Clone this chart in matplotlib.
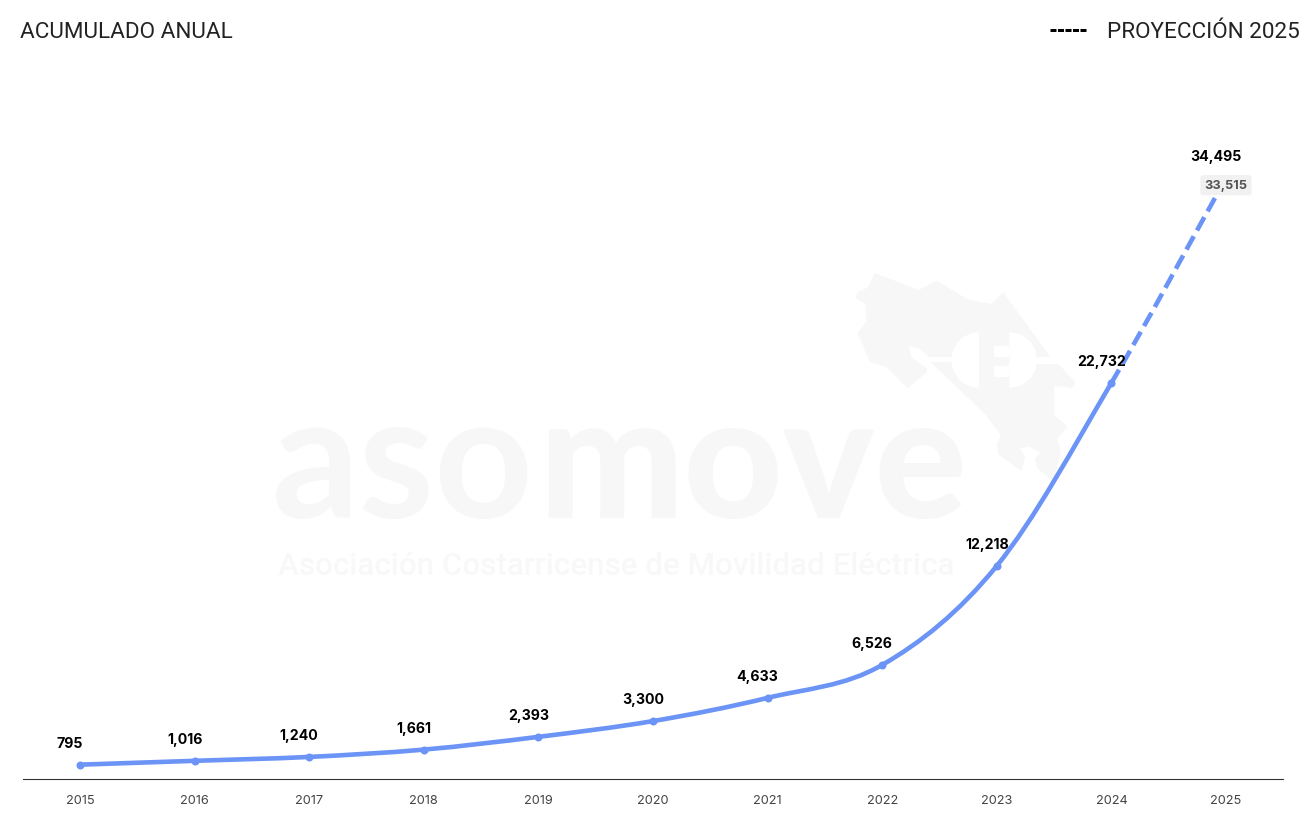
import numpy as np
import matplotlib
matplotlib.use("Agg")
import matplotlib.pyplot as plt
from matplotlib.path import Path
from matplotlib.patches import PathPatch, Polygon, Rectangle, Wedge
from matplotlib.lines import Line2D
from matplotlib.transforms import Affine2D

years = [2015, 2016, 2017, 2018, 2019, 2020, 2021, 2022, 2023, 2024, 2025]
totals = [795, 1016, 1240, 1661, 2393, 3300, 4633, 6526, 12218, 22732, 34495]
actual_2025 = 33515
title_left = "ACUMULADO ANUAL"
title_right = "PROYECCIÓN 2025"

W, H = 1314, 837
LINE = "#6b94f6"
MARK = "#f7f7f7"
px = 72 / 100

fig = plt.figure(figsize=(W / 100, H / 100), dpi=100, facecolor="white")
y_scale = 0.017405
ymax = 39000
ax_left, ax_right, ax_base = 22.7, 1283.3, 779.5
ax_h = ymax * y_scale
ax = fig.add_axes([ax_left / W, (H - ax_base) / H, (ax_right - ax_left) / W, ax_h / H])
ax.set_xlim(years[0] - 0.5, years[-1] + 0.5)
ax.set_ylim(0, ymax)
ax.patch.set_alpha(0)
for s in ("left", "right", "top"):
    ax.spines[s].set_visible(False)
ax.spines["bottom"].set_color("#333333")
ax.spines["bottom"].set_linewidth(0.8)
ax.set_yticks([])
ax.set_xticks(years)
ax.tick_params(axis="x", length=0, pad=11.5, labelsize=9.2, labelcolor="#444444")
for t in ax.get_xticklabels():
    t.set_family("Inter")

# pixel coordinates (origin top-left), only for the logo watermark and header
pix = Affine2D().scale(1, -1).translate(0, H)
logo = Affine2D().scale(1 / 3).translate(840, 265) + pix

outline = [(103, 27), (237, 78), (290, 50), (385, 107), (455, 120), (490, 85), (630, 278),
           (655, 300), (707, 355), (697, 372), (643, 365), (643, 452), (682, 488), (652, 523),
           (663, 560), (640, 655), (590, 610), (585, 585), (600, 565), (565, 548), (540, 552),
           (555, 580), (545, 622), (475, 570), (470, 540), (483, 515), (440, 455), (272, 295),
           (265, 278), (240, 255), (205, 245), (215, 280), (262, 315), (260, 325), (202, 373),
           (140, 310), (90, 293), (53, 208), (80, 170), (75, 120), (45, 100), (55, 83), (85, 70)]
fig.add_artist(Polygon(outline, closed=True, fc=MARK, ec="none", transform=logo, zorder=0))
for x0, y0, w, h in [(265, 278, 80, 17), (585, 278, 70, 22), (462, 245, 46, 33), (462, 305, 46, 35)]:
    fig.add_artist(Rectangle((x0, y0), w, h, fc="white", ec="none", transform=logo, zorder=0.1))
fig.add_artist(Wedge((417, 288), 83, 90, 270, fc="white", ec="none", transform=logo, zorder=0.1))
fig.add_artist(Wedge((508, 288), 83, -90, 90, fc="white", ec="none", transform=logo, zorder=0.1))

fig.text(272, 518, "aso", transform=pix, family="Lato", weight="bold", fontsize=124, color=MARK,
         ha="left", va="baseline", zorder=0.2)
fig.text(538, 518, "move", transform=pix, family="Lato", weight="black", fontsize=124, color=MARK,
         ha="left", va="baseline", zorder=0.2)
fig.text(278, 575, "Asociación Costarricense de Movilidad Eléctrica", transform=pix, family="Roboto",
         weight="medium", fontsize=22.6, color="#f8f8f8", ha="left", va="baseline", zorder=0.2)

# smooth line drawn from the data through cubic Bézier segments
xv = np.array(years, dtype=float)
yv = np.array(totals, dtype=float)
slopes = np.gradient(yv, xv)


def bezier(i0, i1):
    verts = [(xv[i0], yv[i0])]
    codes = [Path.MOVETO]
    for i in range(i0, i1):
        verts += [(xv[i] + 1 / 3, yv[i] + slopes[i] / 3),
                  (xv[i + 1] - 1 / 3, yv[i + 1] - slopes[i + 1] / 3),
                  (xv[i + 1], yv[i + 1])]
        codes += [Path.CURVE4] * 3
    return Path(verts, codes)


lw = 4.6 * px
ax.add_patch(PathPatch(bezier(0, 9), fc="none", ec=LINE, lw=lw, capstyle="round", zorder=3))
ax.add_patch(PathPatch(bezier(9, 10), fc="none", ec=LINE, lw=lw, capstyle="butt",
                       linestyle=(0, (3.3, 1.45)), zorder=3))
ax.plot(years[:10], totals[:10], ls="none", marker="o", ms=8 * px, mfc=LINE, mec="none", zorder=4)

for x, v in zip(years, totals):
    ax.annotate(f"{v:,}", (x, v), xytext=(-10 * px, 22 * px), textcoords="offset points",
                ha="center", va="center", family="Inter", weight="bold", fontsize=10.2,
                color="black", zorder=6)
ax.annotate(f"{actual_2025:,}", (years[-1], actual_2025), xytext=(0, 10 * px),
            textcoords="offset points", ha="center", va="center", family="Inter", weight="bold",
            fontsize=9.2, color="#555555", zorder=7,
            bbox=dict(boxstyle="round,pad=0.32,rounding_size=0.2", fc="#f1f1f1", ec="none"))

fig.text(20, 38.5, title_left, transform=pix, family="Roboto", fontsize=16.2, color="#222222",
         ha="left", va="baseline", zorder=8)
fig.text(1300, 38.5, title_right, transform=pix, family="Roboto", fontsize=16.2, color="#222222",
         ha="right", va="baseline", zorder=8)
fig.add_artist(Line2D([1050, 1087], [31, 31], color="black", lw=3 * px, transform=pix,
                      linestyle=(0, (2.0, 0.5)), dash_capstyle="butt"))

fig.savefig("out.png", dpi=100, facecolor="white")
